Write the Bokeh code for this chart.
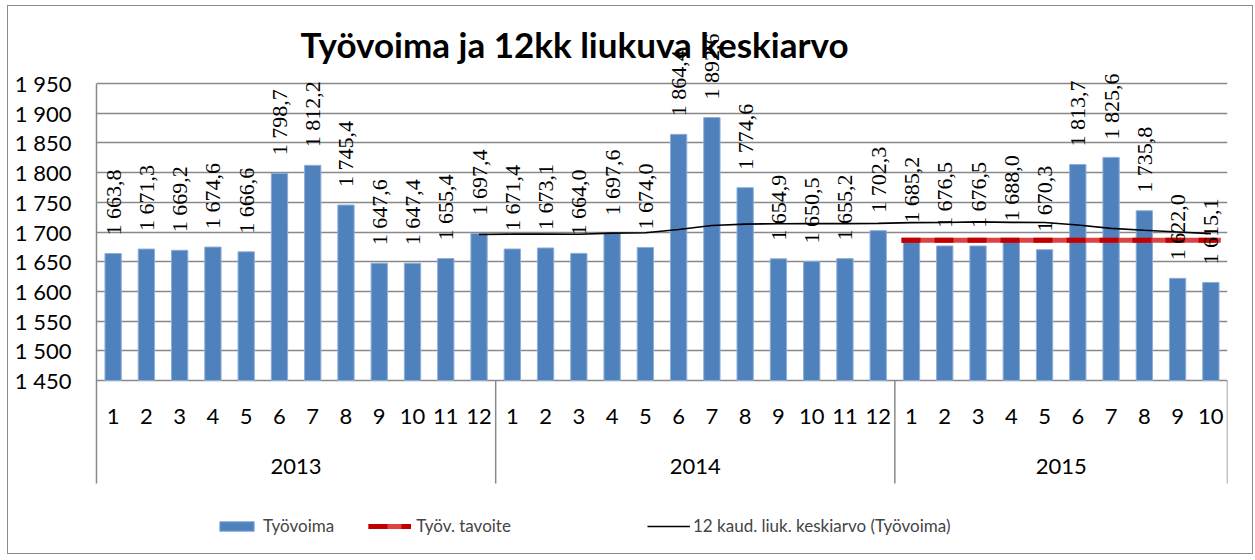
from math import pi
from bokeh.plotting import figure
from bokeh.models import (FactorRange, Range1d, FixedTicker, ColumnDataSource, LabelSet,
                          Legend, LegendItem, Label)
from bokeh.core.properties import value
from bokeh.embed import file_html
from bokeh.resources import INLINE

# ---------------- data ----------------
years = ["2013", "2014", "2015"]
months_2013 = ["1", "2", "3", "4", "5", "6", "7", "8", "9", "10", "11", "12"]
months_2014 = ["1", "2", "3", "4", "5", "6", "7", "8", "9", "10", "11", "12"]
months_2015 = ["1", "2", "3", "4", "5", "6", "7", "8", "9", "10"]

tyovoima_2013 = [1663.8, 1671.3, 1669.2, 1674.6, 1666.6, 1798.7, 1812.2, 1745.4, 1647.6, 1647.4, 1655.4, 1697.4]
tyovoima_2014 = [1671.4, 1673.1, 1664.0, 1697.6, 1674.0, 1864.4, 1892.6, 1774.6, 1654.9, 1650.5, 1655.2, 1702.3]
tyovoima_2015 = [1685.2, 1676.5, 1676.5, 1688.0, 1670.3, 1813.7, 1825.6, 1735.8, 1622.0, 1615.1]

# 12-month moving average (Dec 2013 .. Oct 2015)
liuk_keskiarvo = [1695.8, 1696.4, 1696.6, 1696.2, 1698.1, 1698.7, 1704.2, 1710.9, 1713.3, 1713.9,
                  1714.2, 1714.1, 1714.6, 1715.7, 1716.0, 1717.0, 1716.2, 1715.9, 1711.7, 1706.1,
                  1702.9, 1700.1, 1697.2]
# target for 2015
tavoite = [1686, 1686, 1686, 1686, 1686, 1686, 1686, 1686, 1686, 1686]

y_ticks = [1450, 1500, 1550, 1600, 1650, 1700, 1750, 1800, 1850, 1900, 1950]
y_tick_labels = ["1 450", "1 500", "1 550", "1 600", "1 650", "1 700", "1 750",
                 "1 800", "1 850", "1 900", "1 950"]

title_text = "Työvoima ja 12kk liukuva keskiarvo"
legend_labels = ["Työvoima", "Työv. tavoite", "12 kaud. liuk. keskiarvo (Työvoima)"]

# ---------------- layout (page pixels) ----------------
OX, OY = 8, 6                 # canvas origin on the page
W, H = 1246, 549              # canvas size
PLOT_L, PLOT_R = 96, 1227     # plot area left/right (page px)
Y_TOP_PX, Y_BOT_PX = 83, 380  # pixel rows of y = 1950 and y = 1450
BOX_BOT_PX = 483              # bottom of the category box
MONTH_PX, YEAR_PX = 415.5, 465.5

k = (1950 - 1450) / (Y_BOT_PX - Y_TOP_PX)   # data units per pixel
frame_top_px, frame_bot_px = OY, OY + H
y_start = 1450 - (frame_bot_px - Y_BOT_PX) * k
y_end = 1950 + (Y_TOP_PX - frame_top_px) * k
y_box = 1450 - (BOX_BOT_PX - Y_BOT_PX) * k
y_month = 1450 - (MONTH_PX - Y_BOT_PX) * k
y_year = 1450 - (YEAR_PX - Y_BOT_PX) * k

# ---------------- derived ----------------
factors = ([("2013", m) for m in months_2013] + [("2014", m) for m in months_2014]
           + [("2015", m) for m in months_2015])
month_labels = months_2013 + months_2014 + months_2015
values = tyovoima_2013 + tyovoima_2014 + tyovoima_2015


def fi(v):
    return f"{v:,.1f}".replace(",", " ").replace(".", ",")


bar_src = ColumnDataSource(dict(x=factors, top=values, label=[fi(v) for v in values]))
ma_src = ColumnDataSource(dict(x=factors[11:], y=liuk_keskiarvo))
t_fac = [("2015", m) for m in months_2015]
t_x = [t_fac[0] + (-0.3,)] + t_fac[1:-1] + [t_fac[-1] + (0.3,)]
tgt_src = ColumnDataSource(dict(x=t_x, y=tavoite))

FONT = "Lato"
GRAY = "#898989"

p = figure(width=W, height=H,
           x_range=FactorRange(*factors, group_padding=0, subgroup_padding=0,
                               factor_padding=0, range_padding=0),
           y_range=Range1d(y_start, y_end),
           x_axis_location=None, title_location=None,
           output_backend="svg", toolbar_location=None,
           min_border_left=PLOT_L - OX, min_border_right=OX + W - PLOT_R,
           min_border_top=0, min_border_bottom=0)
p.background_fill_color = "white"
p.border_fill_color = "white"
p.outline_line_color = None
p.styles = {"margin": "5px 0px 0px 7px", "border": "1px solid #8c8c8c"}

# bars
bars = p.vbar(x="x", top="top", bottom=1450, width=0.49, source=bar_src,
              fill_color="#4F81BD", line_color="#8EAEDA", line_width=1)

# target line (red, two-tone dashed)
t1 = p.line(x="x", y="y", source=tgt_src, line_color="#D9393B", line_width=5, line_alpha=0.95)
t2 = p.line(x="x", y="y", source=tgt_src, line_color="#C00000", line_width=5, line_dash="19 14")

# moving average
ma = p.line(x="x", y="y", source=ma_src, line_color="black", line_width=1.6)

# data labels
labels = LabelSet(x="x", y="top", text="label", source=bar_src, angle=pi / 2,
                  text_align="left", text_baseline="middle", y_offset=18,
                  text_font=FONT, text_font_size="22px", text_color="black")
p.add_layout(labels)

# y axis
p.yaxis.ticker = FixedTicker(ticks=y_ticks)
p.yaxis.bounds = (y_box, 1950)
p.yaxis.major_label_overrides = {t: l for t, l in zip(y_ticks, y_tick_labels)}
p.yaxis.major_label_text_font = FONT
p.yaxis.major_label_text_font_size = "22px"
p.yaxis.major_label_text_color = "black"
p.yaxis.axis_line_color = GRAY
p.yaxis.axis_line_width = 1.5
p.yaxis.major_tick_line_color = None
p.yaxis.minor_tick_line_color = None
p.yaxis.major_tick_out = 0
p.yaxis.major_tick_in = 0
p.yaxis.major_label_standoff = 25

p.ygrid.ticker = FixedTicker(ticks=y_ticks)
p.ygrid.grid_line_color = GRAY
p.ygrid.grid_line_width = 1.5
p.xgrid.grid_line_color = None

# category axis: month and year labels with group separators
p.text(x=factors, y=y_month, text=month_labels, text_align="center", text_baseline="middle",
       text_font=value(FONT), text_font_size="22px", text_color="black")
p.text(x=years, y=y_year, text=years, text_align="center", text_baseline="middle",
       text_font=value(FONT), text_font_size="22px", text_color="black")
sep_x = [("2013", "12", 0.5), ("2014", "12", 0.5), ("2015", "10", 0.5)]
p.segment(x0=sep_x, y0=1450, x1=sep_x, y1=y_box, line_color=GRAY, line_width=1.5)

# title
p.add_layout(Label(x=300 - PLOT_L, y=frame_bot_px - 43, x_units="screen", y_units="screen",
                   text=title_text, text_font=FONT, text_font_size="35px",
                   text_font_style="bold", text_color="black", text_baseline="alphabetic"))

# legends
leg_y = frame_bot_px - 536
common = dict(orientation="horizontal", glyph_width=43, glyph_height=12, label_height=20,
              padding=0, margin=0, border_line_color=None, background_fill_alpha=0,
              label_text_font=FONT, label_text_font_size="17px")
leg1 = Legend(items=[LegendItem(label=legend_labels[0], renderers=[bars]),
                     LegendItem(label=legend_labels[1], renderers=[t1, t2])],
              location=(215 - PLOT_L, leg_y), spacing=34, label_standoff=5, **common)
leg2 = Legend(items=[LegendItem(label=legend_labels[2], renderers=[ma])],
              location=(647 - PLOT_L, leg_y), spacing=0, label_standoff=3, **common)
p.add_layout(leg1)
p.add_layout(leg2)

open("out.html", "w").write(file_html(p, INLINE))
